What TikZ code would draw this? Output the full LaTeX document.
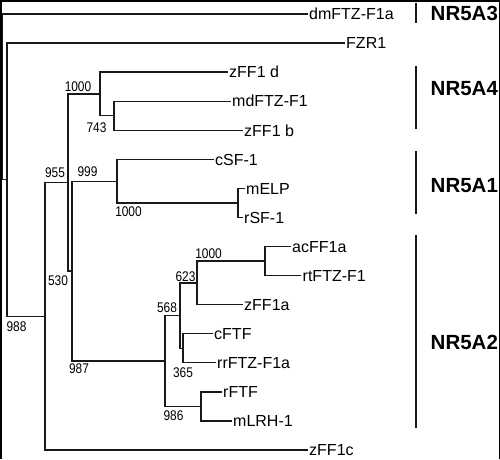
\documentclass[tikz,border=0pt]{standalone}
\usepackage{fontspec}
\setmainfont{Liberation Sans}
\newfontfamily\numfont[FakeStretch=0.85]{Liberation Sans}
\begin{document}
\begin{tikzpicture}[x=1pt,y=-1pt,
  tree/.style={line width=1.3pt, draw=black!90, line join=miter},
  leaf/.style={anchor=west, inner xsep=1.5pt, inner ysep=0pt, text height=11.5pt, text depth=0pt, font=\fontsize{16}{18}\selectfont},
  boot/.style={inner sep=0pt, font=\numfont\fontsize{14}{16}\selectfont},
  grp/.style={anchor=base west, inner sep=0pt, font=\bfseries\fontsize{20.5}{22}\selectfont},
  bar/.style={line width=1.5pt, draw=black!90},
  frame/.style={line width=3pt, draw=black}]
\useasboundingbox (0,0) rectangle (500,459);
% leaves
\node[leaf] (dm) at (307.5,14) {dmFTZ-F1a};
\node[leaf] (fzr) at (344.5,43.1) {FZR1};
\node[leaf] (zd) at (227.5,72.1) {zFF1 d};
\node[leaf] (md) at (230.5,101.2) {mdFTZ-F1};
\node[leaf] (zb) at (242.5,130.3) {zFF1 b};
\node[leaf] (csf) at (213.5,159.4) {cSF-1};
\node[leaf] (melp) at (244.5,188.4) {mELP};
\node[leaf] (rsf) at (242.5,217.5) {rSF-1};
\node[leaf] (ac) at (290.5,246.6) {acFF1a};
\node[leaf] (rt) at (301,275.6) {rtFTZ-F1};
\node[leaf] (za) at (242.5,304.7) {zFF1a};
\node[leaf] (cftf) at (212.5,333.8) {cFTF};
\node[leaf] (rr) at (215.5,362.8) {rrFTZ-F1a};
\node[leaf] (rftf) at (221.5,391.9) {rFTF};
\node[leaf] (mlrh) at (231.5,421) {mLRH-1};
\node[leaf] (zc) at (307.5,450) {zFF1c};
% internal nodes
\coordinate (n743) at (114,115.8);
\coordinate (na) at (100,94);
\coordinate (nelp) at (238,203);
\coordinate (nsf) at (117,181.2);
\coordinate (nac) at (265,261.1);
\coordinate (n623) at (197,282.9);
\coordinate (n365) at (183,348.3);
\coordinate (n568) at (180,315.6);
\coordinate (n986) at (201,406.5);
\coordinate (n987) at (165,361);
\coordinate (n530) at (72,271.1);
\coordinate (n955) at (68,182.6);
\coordinate (n988) at (45,316.3);
\coordinate (nfzr) at (7,179.7);
\coordinate (root) at (2.5,96.9);
% branches
\draw[tree] (md) -| (n743) |- (zb);
\draw[tree] (zd) -| (na) |- (n743);
\draw[tree] (melp) -| (nelp) |- (rsf);
\draw[tree] (csf) -| (nsf) |- (nelp);
\draw[tree] (ac) -| (nac) |- (rt);
\draw[tree] (nac) -| (n623) |- (za);
\draw[tree] (cftf) -| (n365) |- (rr);
\draw[tree] (n623) -| (n568) |- (n365);
\draw[tree] (rftf) -| (n986) |- (mlrh);
\draw[tree] (n568) -| (n987) |- (n986);
\draw[tree] (nsf) -| (n530) |- (n987);
\draw[tree] (na) -| (n955) |- (n530);
\draw[tree] (n955) -| (n988) |- (zc);
\draw[tree] (fzr) -| (nfzr) |- (n988);
\draw[tree] (dm) -| (root) |- (nfzr);
% bootstrap values
\node[boot] (b1000a) at (78,87) {1000};
\node[boot] (b743) at (96.5,128) {743};
\node[boot] (b955) at (55,172.5) {955};
\node[boot] (b999) at (87.5,171.5) {999};
\node[boot] (b1000b) at (128.5,212) {1000};
\node[boot] (b530) at (58,281) {530};
\node[boot] (b1000c) at (208.5,253.5) {1000};
\node[boot] (b623) at (185.5,276.5) {623};
\node[boot] (b568) at (167,308) {568};
\node[boot] (b365) at (183,373) {365};
\node[boot] (b987) at (79,368.5) {987};
\node[boot] (b986) at (173.5,416) {986};
\node[boot] (b988) at (16.5,327) {988};
% groups
\draw[bar] (416,3) -- (416,22.5);
\draw[bar] (416,66) -- (416,129);
\draw[bar] (416,151) -- (416,213.5);
\draw[bar] (416,235) -- (416,427.5);
\node[grp] (g3) at (430.5,20) {NR5A3};
\node[grp] (g4) at (430.5,95) {NR5A4};
\node[grp] (g1) at (430.5,192.5) {NR5A1};
\node[grp] (g2) at (430.5,349.5) {NR5A2};
% frame
\draw[frame] (0,459) -- (0,0) -- (500,0) -- (500,459);
\end{tikzpicture}
\end{document}
